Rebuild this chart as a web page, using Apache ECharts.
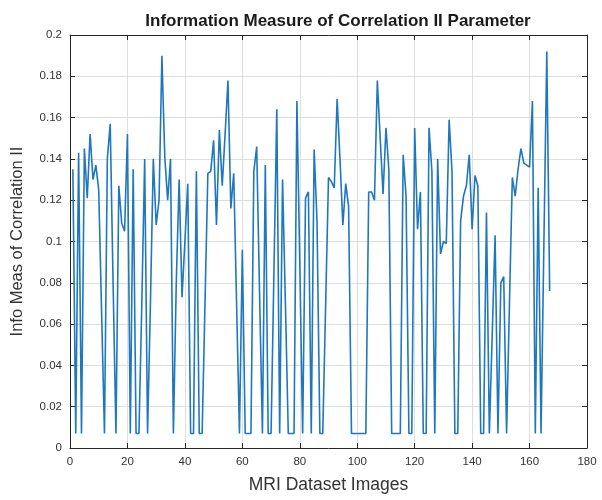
<!DOCTYPE html>
<html>
<head>
<meta charset="utf-8">
<script src="https://cdn.jsdelivr.net/npm/echarts@6/dist/echarts.min.js"></script>
<style>
html,body{margin:0;padding:0;background:#fff;}
#chart{width:602px;height:500px;}
</style>
</head>
<body>
<div id="chart"></div>
<script>
var titleText = 'Information Measure of Correlation II Parameter';
var xLabel = 'MRI Dataset Images';
var yLabel = 'Info Meas of Correlation II';
var xTicks = [0, 20, 40, 60, 80, 100, 120, 140, 160, 180];
var yTicks = [0, 0.02, 0.04, 0.06, 0.08, 0.1, 0.12, 0.14, 0.16, 0.18, 0.2];

// values for images 1..167
var infoValues = [
  0.135, 0.007, 0.143, 0.007, 0.145, 0.121, 0.152, 0.130, 0.137, 0.125,
  0.066, 0.007, 0.140, 0.157, 0.080, 0.007, 0.127, 0.109, 0.105, 0.152,
  0.007, 0.135, 0.007, 0.007, 0.070, 0.140, 0.007, 0.070, 0.140, 0.108,
  0.120, 0.190, 0.141, 0.120, 0.140, 0.007, 0.080, 0.130, 0.073, 0.100,
  0.128, 0.007, 0.007, 0.134, 0.007, 0.007, 0.070, 0.133, 0.134, 0.149,
  0.108, 0.154, 0.127, 0.152, 0.178, 0.116, 0.133, 0.070, 0.007, 0.096,
  0.007, 0.007, 0.007, 0.134, 0.146, 0.075, 0.007, 0.137, 0.007, 0.007,
  0.085, 0.164, 0.007, 0.130, 0.070, 0.007, 0.007, 0.007, 0.168, 0.090,
  0.007, 0.121, 0.124, 0.007, 0.1445, 0.110, 0.007, 0.007, 0.069, 0.131,
  0.129, 0.126, 0.169, 0.140, 0.108, 0.128, 0.117, 0.007, 0.007, 0.007,
  0.007, 0.007, 0.007, 0.124, 0.124, 0.120, 0.178, 0.150, 0.123, 0.155,
  0.135, 0.007, 0.007, 0.007, 0.007, 0.142, 0.122, 0.007, 0.007, 0.155,
  0.106, 0.124, 0.007, 0.007, 0.155, 0.134, 0.007, 0.140, 0.094, 0.100,
  0.099, 0.159, 0.134, 0.007, 0.007, 0.110, 0.122, 0.127, 0.142, 0.106,
  0.132, 0.127, 0.007, 0.007, 0.114, 0.007, 0.055, 0.103, 0.007, 0.080,
  0.083, 0.007, 0.070, 0.131, 0.122, 0.135, 0.145, 0.138, 0.137, 0.136,
  0.168, 0.007, 0.126, 0.007, 0.100, 0.192, 0.076
];

var seriesData = infoValues.map(function (v, i) { return [i + 1, v]; });

var axisColor = '#262626';
var gridColor = '#dedede';

var chart = echarts.init(document.getElementById('chart'), null, {renderer: 'canvas'});
chart.setOption({
  animation: false,
  backgroundColor: '#ffffff',
  title: {
    text: titleText,
    left: 333,
    top: 8,
    textAlign: 'center',
    textStyle: {fontFamily: 'Liberation Sans', fontSize: 17, fontWeight: 'bold', color: '#1a1a1a'}
  },
  grid: {left: 70, right: 15, top: 35, bottom: 52, containLabel: false},
  xAxis: [{
    type: 'value', min: xTicks[0], max: xTicks[xTicks.length - 1], interval: 20,
    name: xLabel, nameLocation: 'middle', nameGap: 28,
    nameTextStyle: {fontFamily: 'Liberation Sans', fontSize: 17.5, color: '#333'},
    axisLine: {show: true, onZero: false, lineStyle: {color: axisColor, width: 1}},
    axisTick: {show: true, inside: true, length: 5, lineStyle: {color: axisColor}},
    axisLabel: {fontFamily: 'Liberation Sans', fontSize: 11.5, color: '#333', margin: 8},
    splitLine: {show: true, lineStyle: {color: gridColor, width: 1}}
  }, {
    type: 'value', position: 'top', min: xTicks[0], max: xTicks[xTicks.length - 1], interval: 20,
    axisLine: {show: true, onZero: false, lineStyle: {color: axisColor, width: 1}},
    axisTick: {show: true, inside: true, length: 5, lineStyle: {color: axisColor}},
    axisLabel: {show: false}, splitLine: {show: false}
  }],
  yAxis: [{
    type: 'value', min: yTicks[0], max: yTicks[yTicks.length - 1], interval: 0.02,
    name: yLabel, nameLocation: 'middle', nameGap: 44, nameRotate: 90,
    nameTextStyle: {fontFamily: 'Liberation Sans', fontSize: 16.5, color: '#333'},
    axisLine: {show: true, onZero: false, lineStyle: {color: axisColor, width: 1}},
    axisTick: {show: true, inside: true, length: 5, lineStyle: {color: axisColor}},
    axisLabel: {fontFamily: 'Liberation Sans', fontSize: 11.5, color: '#333', margin: 8,
      formatter: function (v) { return String(+v.toFixed(2)); }},
    splitLine: {show: true, lineStyle: {color: gridColor, width: 1}}
  }, {
    type: 'value', position: 'right', min: yTicks[0], max: yTicks[yTicks.length - 1], interval: 0.02,
    axisLine: {show: true, onZero: false, lineStyle: {color: axisColor, width: 1}},
    axisTick: {show: true, inside: true, length: 5, lineStyle: {color: axisColor}},
    axisLabel: {show: false}, splitLine: {show: false}
  }],
  series: [{
    type: 'line',
    data: seriesData,
    xAxisIndex: 0, yAxisIndex: 0,
    showSymbol: false,
    symbol: 'none',
    lineStyle: {color: '#1f77bd', width: 1.6},
    silent: true
  }]
});
</script>
</body>
</html>
